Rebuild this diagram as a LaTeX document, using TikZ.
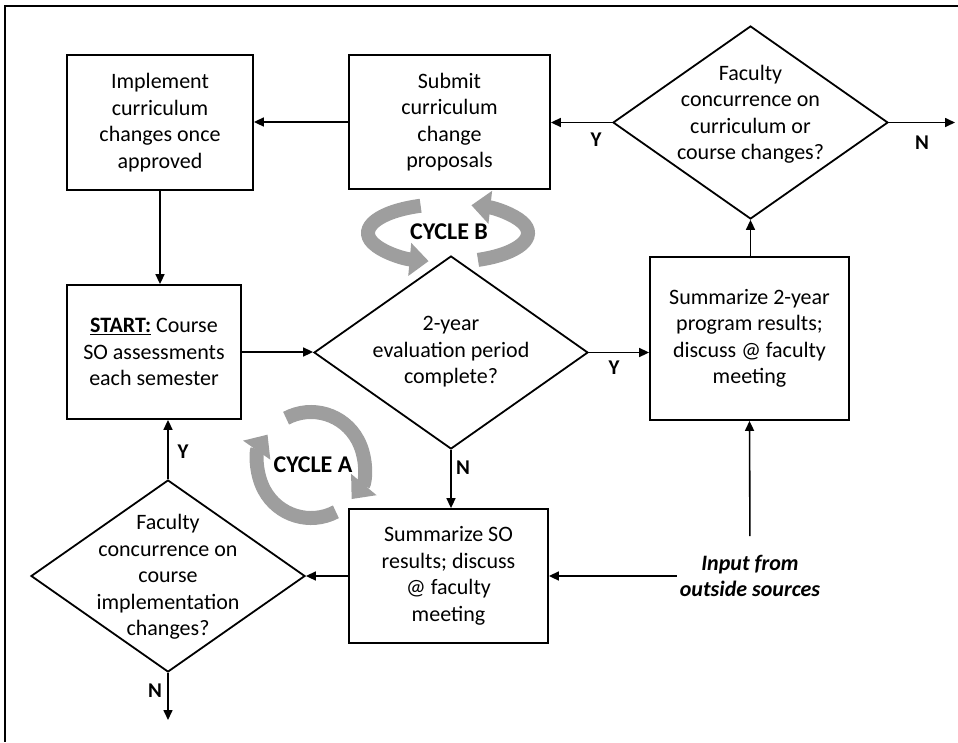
\documentclass[tikz,border=0pt]{standalone}
\usepackage{fontspec}
\setmainfont{Carlito}
\usetikzlibrary{shapes.geometric,arrows.meta}
\begin{document}
\begin{tikzpicture}[x=1pt,y=-1pt,
  every node/.style={font=\fontsize{22}{26.5}\selectfont},
  box/.style={draw,line width=1.8pt,rectangle,inner sep=0pt,align=center},
  dia/.style={draw,line width=1.8pt,diamond,inner sep=0pt,aspect=1.42},
  txt/.style={align=center,inner sep=3pt},
  lab/.style={font=\fontsize{21}{24}\selectfont\bfseries,inner sep=0pt},
  cyc/.style={font=\fontsize{24}{28}\selectfont\bfseries,inner sep=0pt},
  conn/.style={line width=1.6pt,-{Triangle[length=10pt,width=9pt]}},
  ring/.style={line width=14pt,draw=black!38,-{Triangle[length=19pt,width=32pt]}}
]
\useasboundingbox (0,0) rectangle (958,742);
\draw[line width=2pt] (958,6) -- (5,6) -- (5,742);

% boxes
\node[box,minimum width=186pt,minimum height=135pt] (impl) at (160,122.5) {Implement\\curriculum\\changes once\\approved};
\node[box,minimum width=201pt,minimum height=134pt] (sub) at (449.5,122) {Submit\\curriculum\\change\\proposals};
\node[box,minimum width=174pt,minimum height=134pt] (start) at (154,352) {\underline{\textbf{START:}} Course\\SO assessments\\each semester};
\node[box,minimum width=199pt,minimum height=163pt] (sum2) at (749.5,338.5) {Summarize 2-year\\program results;\\discuss @ faculty\\meeting};
\node[box,minimum width=199pt,minimum height=134pt] (so) at (448.5,576) {Summarize SO\\results; discuss\\@ faculty\\meeting};

% diamonds
\node[dia,minimum width=275pt,minimum height=193pt] (d1) at (750.5,122.5) {};
\node[txt] (d1t) at (750.5,114) {Faculty\\concurrence on\\curriculum or\\course changes?};
\node[dia,minimum width=274pt,minimum height=193pt] (d2) at (451,352.5) {};
\node[txt] (d2t) at (451,352) {2-year\\evaluation period\\complete?};
\node[dia,minimum width=274pt,minimum height=192pt] (d3) at (168,576) {};
\node[txt] (d3t) at (168,577) {Faculty\\concurrence on\\course\\implementation\\changes?};

\node[txt,font=\fontsize{22}{26}\selectfont\bfseries\itshape] (inp) at (750,576) {Input from\\outside sources};

\coordinate (d1out) at (955,122.5);
\coordinate (d3out) at (168,720);

% connectors
\draw[conn] (sub.west) -- (sub.west -| impl.east);
\draw[conn] (d1.west) -- (d1.west -| sub.east);
\draw[conn] (d1.east) -- (d1out);
\draw[conn] (impl.south) -- (impl.south |- start.north);
\draw[conn] (start.east) -- (start.east -| d2.west);
\draw[conn] (d2.east) -- (d2.east -| sum2.west);
\draw[conn] (sum2.north) -- (sum2.north -| d1.south) -- (d1.south);
\draw[conn,shorten <=16pt] (inp.north) -- (sum2.south);
\draw[conn] (inp.west) -- (inp.west -| so.east);
\draw[conn] (d2.south) -- (d2.south |- so.north);
\draw[conn] (so.west) -- (so.west -| d3.east);
\draw[conn] (d3.north) -- (d3.north |- start.south);
\draw[conn] (d3.south) -- (d3out);

% labels
\node[lab] (ly1) at (596,140) {Y};
\node[lab] (ln1) at (922,143) {N};
\node[lab] (ly2) at (614,368) {Y};
\node[lab] (ln2) at (463,468) {N};
\node[lab] (ly3) at (183,452) {Y};
\node[lab] (ln3) at (155,691) {N};

% cycle B
\draw[ring] (448,233) ++(110:80pt and 29pt) arc[start angle=110,end angle=256,x radius=80pt,y radius=29pt];
\draw[ring] (448,233) ++(-68:80pt and 29pt) arc[start angle=-68,end angle=73,x radius=80pt,y radius=29pt];
\node[cyc] (cb) at (449,232) {CYCLE B};

% cycle A
\draw[ring] (311,465) ++(118:53pt) arc[start angle=118,end angle=-40,radius=53pt];
\draw[ring] (311,465) ++(-62:53pt) arc[start angle=-62,end angle=-215,radius=53pt];
\node[cyc] (ca) at (313,465) {CYCLE A};
\end{tikzpicture}
\end{document}
